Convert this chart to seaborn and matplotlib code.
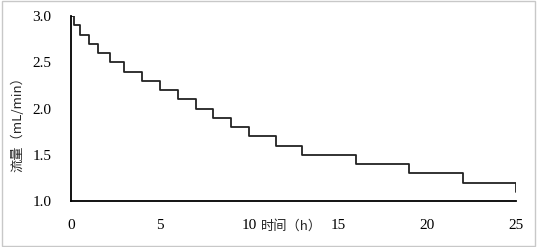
import matplotlib
matplotlib.use("Agg")
import matplotlib.pyplot as plt
import seaborn as sns
import pandas as pd
from matplotlib.patches import Rectangle

time_h = [0, 0.17, 0.5, 1.0, 1.5, 2.2, 3, 4, 5, 6, 7, 8, 9, 10, 11.5, 13, 16, 19, 22, 25]
flow = [3.0, 2.9, 2.8, 2.7, 2.6, 2.5, 2.4, 2.3, 2.2, 2.1, 2.0, 1.9, 1.8, 1.7, 1.6, 1.5, 1.4, 1.3, 1.2, 1.1]
x_ticks = [0, 5, 10, 15, 20, 25]
y_ticks = [1.0, 1.5, 2.0, 2.5, 3.0]
xlabel = "时间（h）"
ylabel = "流量（mL/min）"

df = pd.DataFrame({"t": time_h, "q": flow})

sns.set_style("white")
plt.rcParams['font.family'] = ['Liberation Serif', 'Noto Sans CJK SC', 'DejaVu Sans']

fig = plt.figure(figsize=(5.38, 2.47), dpi=100)
ax = fig.add_axes([71/538, 1-201/247, (516-71)/538, (201-16)/247])

sns.lineplot(data=df, x="t", y="q", ax=ax, drawstyle="steps-post",
             color="#222222", linewidth=1.3)

ax.set_xlim(0, 25)
ax.set_ylim(1.0, 3.0)
ax.set_xticks(x_ticks)
ax.set_xticklabels([str(v) for v in x_ticks])
ax.set_yticks(y_ticks)
ax.set_yticklabels([f"{v:.1f}" for v in y_ticks])
ax.tick_params(axis='both', direction='in', length=3, width=1, colors='black',
               labelsize=11)
ax.tick_params(axis='x', pad=13)
ax.tick_params(axis='y', pad=14)
for s in ['top', 'right']:
    ax.spines[s].set_visible(False)
for s in ['left', 'bottom']:
    ax.spines[s].set_color('black')
    ax.spines[s].set_linewidth(1.3)

ax.set_xlabel(xlabel, fontsize=9.5, family=['Noto Sans CJK SC', 'DejaVu Sans'])
ax.xaxis.set_label_coords((292-71)/445, -(226-201)/185, transform=ax.transAxes)
ax.xaxis.label.set_va('center')
ax.set_ylabel(ylabel, fontsize=9.5, family=['Noto Sans CJK SC', 'DejaVu Sans'])
ax.yaxis.set_label_coords(-(71-18)/445, (201-121)/185)
ax.yaxis.label.set_va('center')

fig.patches.append(Rectangle((0.004, 0.006), 0.99, 0.988, transform=fig.transFigure,
                             fill=False, edgecolor='#c8c8c8', linewidth=1))

fig.savefig("out.png", dpi=100)
